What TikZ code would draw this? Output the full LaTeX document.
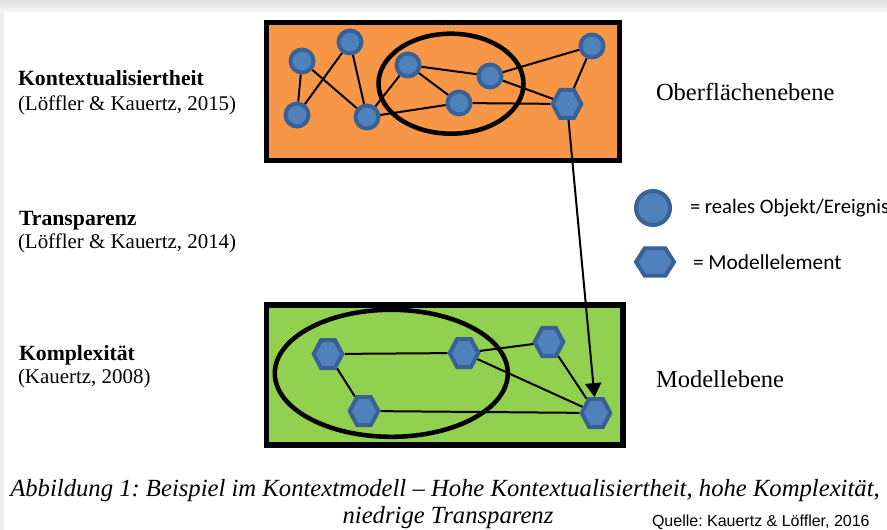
\documentclass[tikz,border=0pt]{standalone}
\usepackage{fontspec}
\setmainfont{Liberation Serif}
\newfontfamily\legendfont{Carlito}
\newfontfamily\notefont{Liberation Sans}
\usetikzlibrary{shapes.symbols,arrows.meta}
\frenchspacing

\definecolor{surfaceorange}{HTML}{F79646}
\definecolor{modelgreen}{HTML}{92D050}
\definecolor{elemfill}{HTML}{4F81BD}
\definecolor{elemedge}{HTML}{3A6195}
\definecolor{bandgrey}{HTML}{EEEEEE}

\pgfdeclarelayer{bg}
\pgfdeclarelayer{links}
\pgfsetlayers{bg,links,main}

\begin{document}
\begin{tikzpicture}[x=0.75pt,y=-0.75pt,
  obj/.style={circle,draw=elemedge,fill=elemfill,line width=3pt,
    minimum size=17.25pt,inner sep=0pt},
  bigobj/.style={obj,minimum size=25.5pt},
  elem/.style={signal,signal to=east and west,signal pointer angle=124,
    draw=elemedge,fill=elemfill,line width=3pt,
    minimum width=21.5pt,minimum height=21pt,inner sep=0pt},
  bigelem/.style={elem,signal pointer angle=115,minimum width=28.5pt,minimum height=20.5pt},
  link/.style={line width=1.5pt},
  levelbox/.style={draw=black,line width=4pt},
  grouping/.style={draw=black,line width=3.4pt},
  txt/.style={inner sep=0pt,outer sep=0pt},
  headline/.style={txt,anchor=base west,font=\bfseries\fontsize{16.3}{19}\selectfont},
  refline/.style={txt,anchor=base west,font=\fontsize{15.7}{18}\selectfont},
  levelname/.style={txt,anchor=base west,font=\fontsize{18.4}{21}\selectfont},
  legendtext/.style={txt,anchor=west,font=\legendfont\fontsize{16}{19}\selectfont},
  captext/.style={txt,anchor=base,font=\itshape\fontsize{18.5}{22}\selectfont}
]
\useasboundingbox (0,0) rectangle (887,530);

% page background with the grey frame strips
\begin{pgfonlayer}{bg}
\fill[white] (0,0) rectangle (887,530);
\shade[top color=bandgrey!90!black!60!bandgrey,bottom color=bandgrey!50!white] (0,0) rectangle (887,12);
\fill[bandgrey] (0,12) rectangle (4,530);
% the two levels
\filldraw[levelbox,fill=surfaceorange] (266.75,22.75) rectangle (619.5,160.25);
\filldraw[levelbox,fill=modelgreen] (266.75,305) rectangle (623,445);
\end{pgfonlayer}

% surface level: real objects / events
\node[obj] (a) at (302,61) {};
\node[obj] (b) at (350,42) {};
\node[obj] (c) at (297,115) {};
\node[obj] (d) at (367,117) {};
\node[obj] (e) at (408,65) {};
\node[obj] (f) at (490,76) {};
\node[obj] (g) at (459,103) {};
\node[elem] (h) at (567,104) {};
\node[obj] (i) at (592,46) {};

% model level: model elements
\node[elem] (p) at (328,354) {};
\node[elem] (q) at (464,353) {};
\node[elem] (r) at (549,342) {};
\node[elem] (s) at (364,411) {};
\node[elem] (t) at (596,413) {};

\begin{pgfonlayer}{links}
\draw[link] (a) -- (c);
\draw[link] (a) -- (d);
\draw[link] (c) -- (b);
\draw[link] (b) -- (d);
\draw[link] (d) -- (e);
\draw[link] (d) -- (g);
\draw[link] (e) -- (f);
\draw[link] (e) -- (g);
\draw[link] (f) -- (i);
\draw[link] (f) -- (h);
\draw[link] (g) -- (h);
\draw[link] (i) -- (h);
\draw[link] (p) -- (q);
\draw[link] (p) -- (s);
\draw[link] (q) -- (r);
\draw[link] (q) -- (t);
\draw[link] (r) -- (t);
\draw[link] (s) -- (t);
\end{pgfonlayer}

% groupings
\draw[grouping] (451,83.7) ellipse [x radius=72.5,y radius=50];
\draw[grouping] (391.3,373.3) ellipse [x radius=116.5,y radius=63.5];

% mapping from surface to model
\draw[line width=1.5pt,-{Triangle[length=10.5pt,width=12pt]}] (h) -- (t);

% labels on the left
\node[headline] (kont) at (18,86) {Kontextualisiertheit};
\node[refline] (kontref) at (18,111) {(Löffler \& Kauertz, 2015)};
\node[headline] (trans) at (19,226) {Transparenz};
\node[refline] (transref) at (18,249) {(Löffler \& Kauertz, 2014)};
\node[headline] (kompl) at (19,360) {Komplexität};
\node[refline] (komplref) at (18,383) {(Kauertz, 2008)};

% level names
\node[levelname] (surf) at (656,101) {Oberflächenebene};
\node[levelname] (model) at (656,387) {Modellebene};

% legend
\node[bigobj] (legobj) at (653,208) {};
\node[legendtext,font=\legendfont\fontsize{15.5}{18}\selectfont] (legobjtext) at (690,208) {= reales Objekt/Ereignis};
\node[bigelem] (legelem) at (655,262) {};
\node[legendtext] (legelemtext) at (693,262) {= Modellelement};

% caption and source
\node[captext] (cap1) at (445,496) {Abbildung 1: Beispiel im Kontextmodell – Hohe Kontextualisiertheit, hohe Komplexität,};
\node[captext] (cap2) at (448,523) {niedrige Transparenz};
\node[txt,anchor=base west,font=\notefont\fontsize{12}{14}\selectfont] (src) at (652,526) {Quelle: Kauertz \& Löffler, 2016};
\end{tikzpicture}
\end{document}
